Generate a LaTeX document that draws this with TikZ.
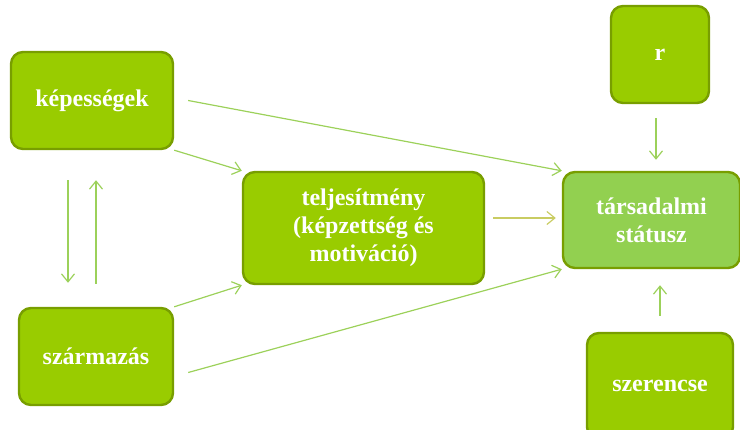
\documentclass[tikz,border=0pt]{standalone}
\usepackage{fontspec}
\setmainfont{Liberation Serif}
\usetikzlibrary{arrows.meta}
\definecolor{zold}{HTML}{99CC00}
\definecolor{vilagos}{HTML}{92D050}
\definecolor{keret}{HTML}{789E00}
\definecolor{nyilszin}{HTML}{9CD15A}
\definecolor{sarga}{HTML}{C9CC62}
\begin{document}
\begin{tikzpicture}[
    x=1pt, y=-1pt,
    doboz/.style={rectangle, rounded corners=12pt, draw=keret, line width=2.4pt,
        fill=zold, text=white, align=center, inner sep=0pt,
        font=\fontsize{24}{28}\selectfont\bfseries},
    nyil/.style={->, draw=nyilszin, line width=1.2pt},
    >={Straight Barb[length=8pt,width=13pt]}
]
\useasboundingbox (0,0) rectangle (740,430);

% Dobozok
\node[doboz, minimum width=162pt, minimum height=97pt] (kep) at (92,100.5) {képességek};
\node[doboz, minimum width=154pt, minimum height=97pt] (szar) at (96,356.5) {származás};
\node[doboz, minimum width=241pt, minimum height=112pt] (telj) at (363.5,228) {teljesítmény\\(képzettség és\\motiváció)};
\node[doboz, fill=vilagos, minimum width=177pt, minimum height=96pt] (tars) at (651.5,220) {társadalmi\\státusz};
\node[doboz, minimum width=98pt, minimum height=97pt] (r) at (660,54.5) {r};
\node[doboz, minimum width=146pt, minimum height=106pt] (szer) at (660,386) {szerencse};

% Nyilak
\draw[nyil] (kep.south east) -- (telj.north west);
\draw[nyil] ([xshift=14pt]kep.east) -- (tars.north west);
\draw[nyil] (szar.north east) -- (telj.south west);
\draw[nyil] ([xshift=14pt,yshift=-16pt]szar.east) -- (tars.south west);
\draw[nyil, draw=sarga] ([xshift=8pt,yshift=10pt]telj.east) -- ([xshift=-6pt,yshift=2pt]tars.west);
\draw[nyil] ([xshift=-4pt,yshift=-14pt]r.south) -- ([xshift=4.5pt,yshift=11pt]tars.north);
\draw[nyil] ([yshift=16pt]szer.north) -- ([xshift=8.5pt,yshift=-16pt]tars.south);
\draw[nyil] ([xshift=-24pt,yshift=-30pt]kep.south) -- ([xshift=-28pt,yshift=24pt]szar.north);
\draw[nyil] ([yshift=23pt]szar.north) -- ([xshift=4pt,yshift=-30pt]kep.south);
\end{tikzpicture}
\end{document}
